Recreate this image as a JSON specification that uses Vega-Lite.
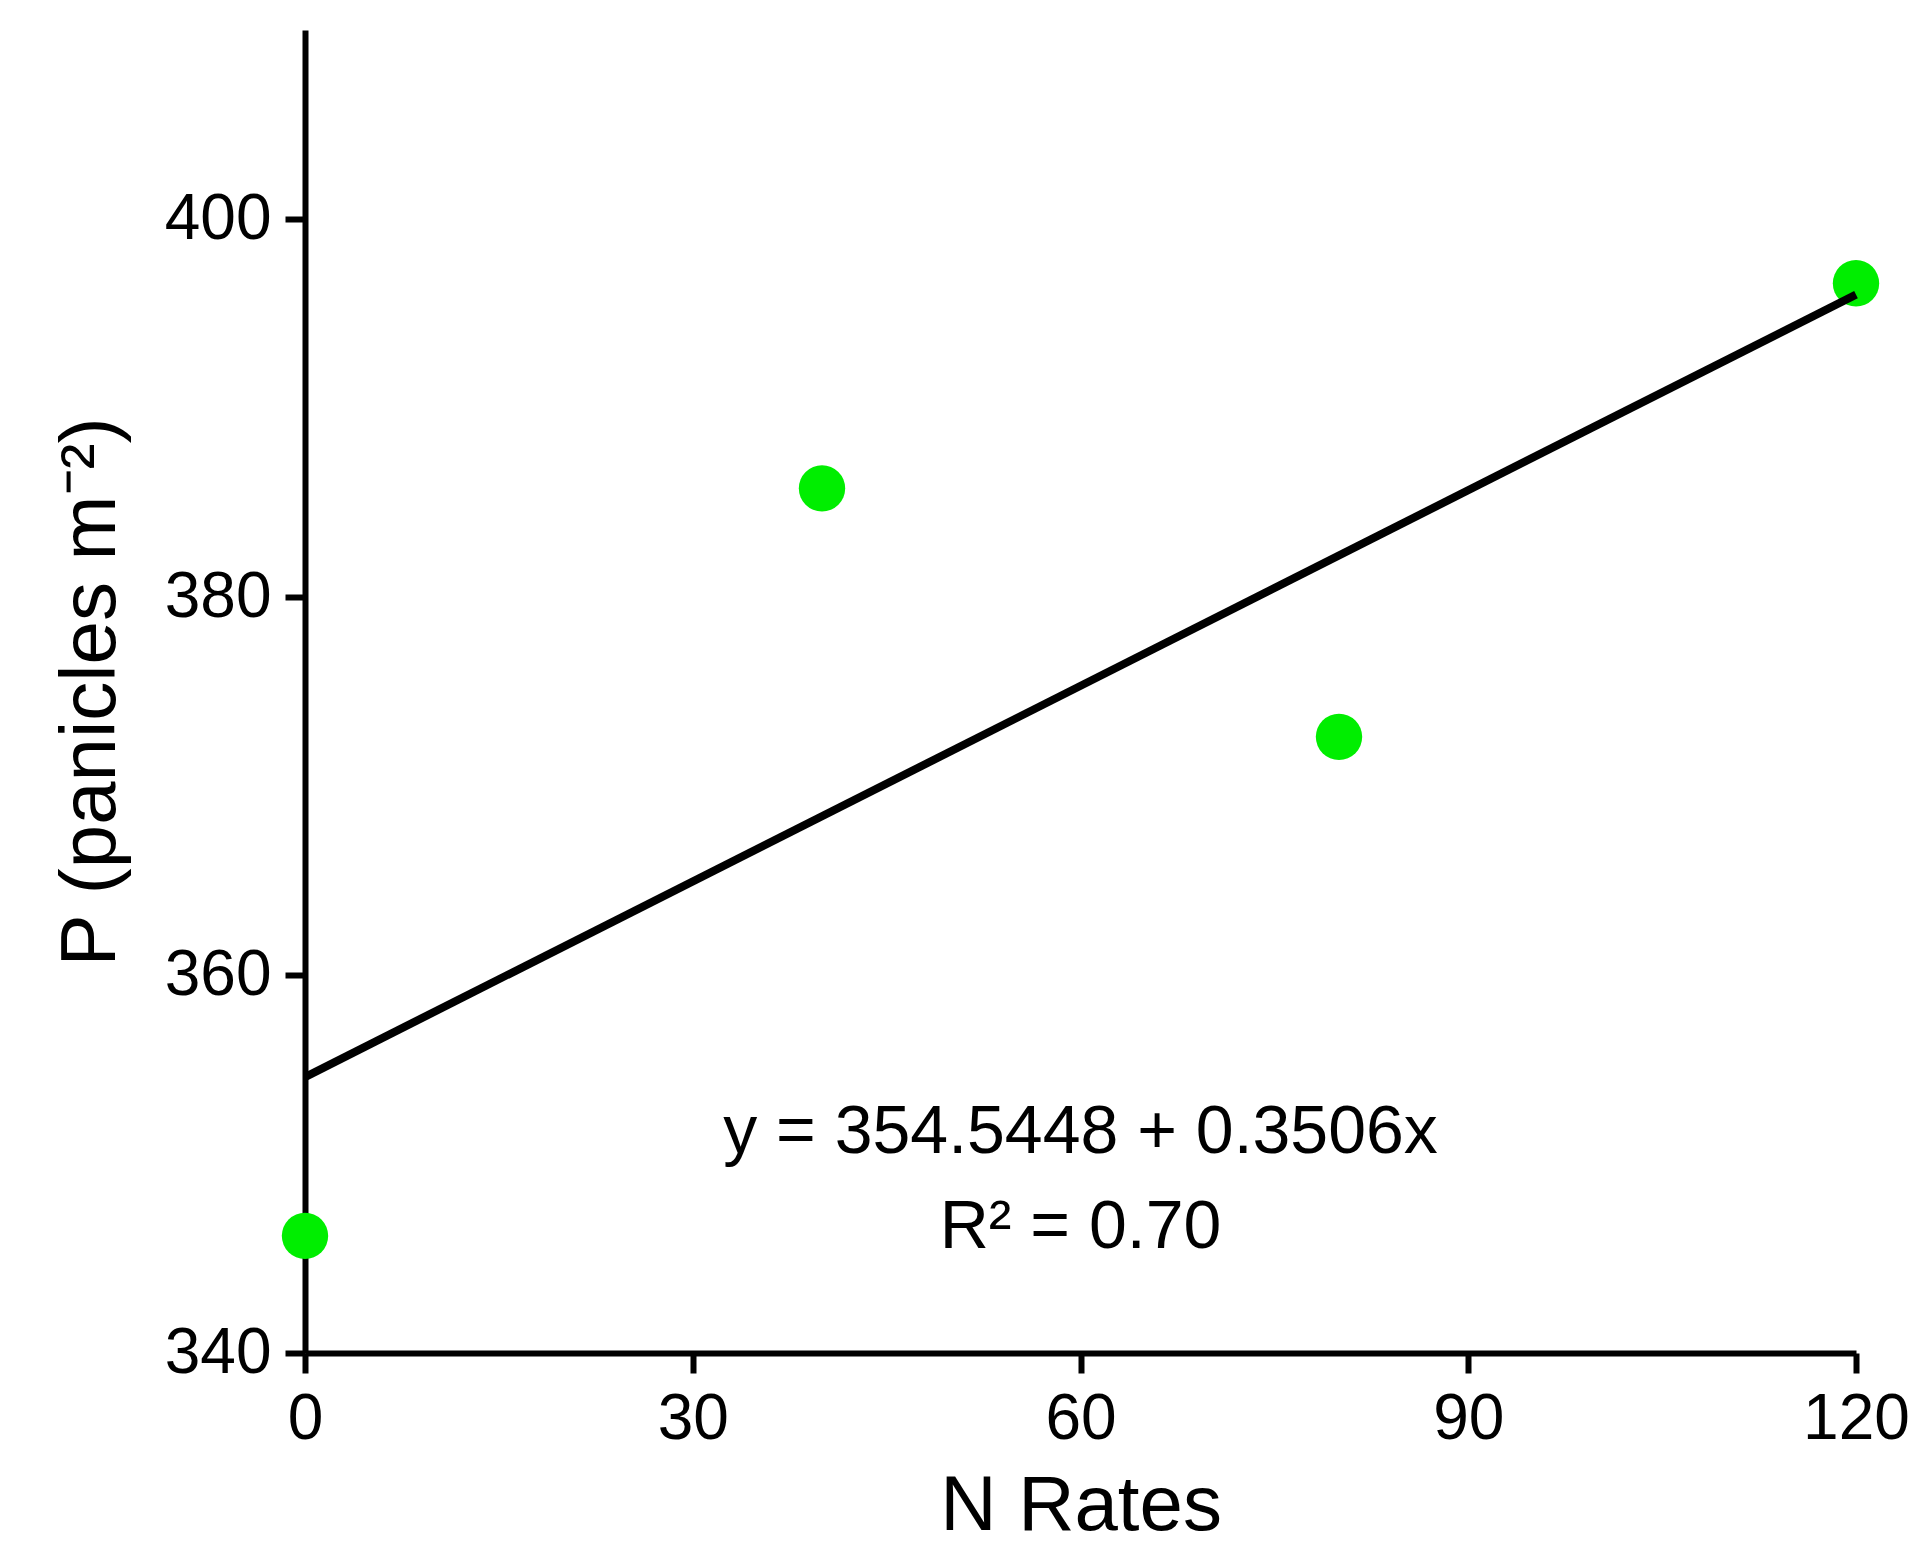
{
  "$schema": "https://vega.github.io/schema/vega-lite/v6.json",
  "width": 1551,
  "height": 1323,
  "autosize": {"type": "none"},
  "padding": {"left": 305, "top": 30, "right": 76, "bottom": 199},
  "background": "white",
  "datasets": {
    "points": [
      {"n_rate": 0, "panicles": 346.2},
      {"n_rate": 40, "panicles": 385.75},
      {"n_rate": 80, "panicles": 372.6},
      {"n_rate": 120, "panicles": 396.6}
    ],
    "fit": [
      {"n_rate": 0, "panicles": 354.6},
      {"n_rate": 120, "panicles": 396.0}
    ],
    "notes": [
      {"label": "y = 354.5448 + 0.3506x", "n_rate": 60, "panicles": 350.6},
      {"label": "R² = 0.70", "n_rate": 60, "panicles": 345.55}
    ]
  },
  "layer": [
    {
      "data": {"name": "points"},
      "mark": {"type": "point", "shape": "circle", "filled": true, "size": 2150, "color": "#00ee00", "opacity": 1, "strokeWidth": 0},
      "encoding": {
        "x": {
          "field": "n_rate",
          "type": "quantitative",
          "scale": {"domain": [0, 120], "nice": false, "zero": false},
          "axis": {"values": [0, 30, 60, 90, 120], "title": "N Rates", "titlePadding": 16}
        },
        "y": {
          "field": "panicles",
          "type": "quantitative",
          "scale": {"domain": [340, 410], "nice": false, "zero": false},
          "axis": {"values": [340, 360, 380, 400], "title": "P (panicles m⁻²)", "titlePadding": 34}
        }
      }
    },
    {
      "data": {"name": "fit"},
      "mark": {"type": "line", "color": "black", "strokeWidth": 8},
      "encoding": {
        "x": {"field": "n_rate", "type": "quantitative"},
        "y": {"field": "panicles", "type": "quantitative"}
      }
    },
    {
      "data": {"name": "notes"},
      "mark": {"type": "text", "font": "Liberation Sans", "fontSize": 68, "color": "black", "align": "center", "baseline": "alphabetic"},
      "encoding": {
        "x": {"field": "n_rate", "type": "quantitative"},
        "y": {"field": "panicles", "type": "quantitative"},
        "text": {"field": "label", "type": "nominal"}
      }
    }
  ],
  "config": {
    "view": {"stroke": null},
    "axis": {
      "grid": false,
      "domainColor": "black",
      "domainWidth": 6,
      "tickColor": "black",
      "tickWidth": 6,
      "tickSize": 20,
      "labelFlush": false,
      "labelFont": "Liberation Sans",
      "labelFontSize": 64,
      "labelColor": "black",
      "labelPadding": 14,
      "titleFont": "Liberation Sans",
      "titleFontSize": 78,
      "titleFontWeight": "normal",
      "titleColor": "black"
    }
  }
}
